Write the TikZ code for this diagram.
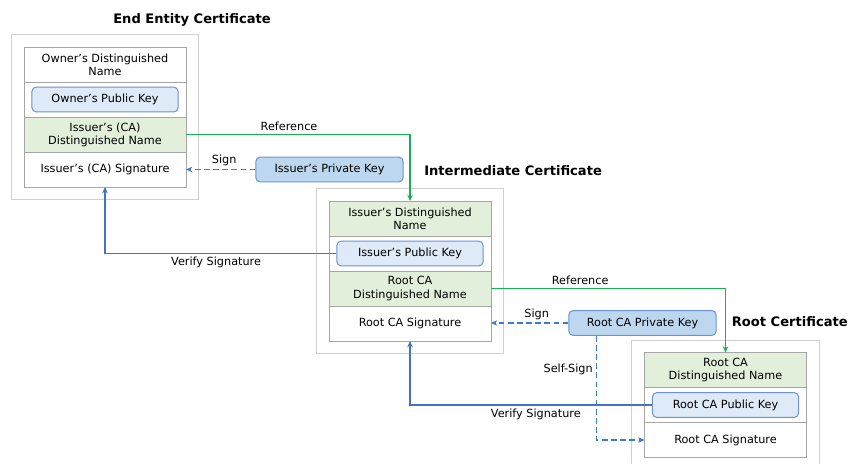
\documentclass[tikz,border=0pt]{standalone}
\usepackage{fontspec}
\setmainfont{DejaVu Sans}
\usepackage{xcolor}
\usetikzlibrary{arrows.meta, positioning, fit, calc}

\definecolor{refgreen}{RGB}{20,178,80}
\definecolor{verblue}{RGB}{68,114,196}
\definecolor{signblue}{RGB}{58,124,212}
\definecolor{dngreen}{RGB}{226,239,218}
\definecolor{publight}{RGB}{222,234,247}
\definecolor{privblue}{RGB}{189,215,238}
\definecolor{keyedge}{RGB}{108,146,212}
\definecolor{fieldedge}{RGB}{166,166,166}
\definecolor{certedge}{RGB}{208,208,208}

\tikzset{
  field/.style={rectangle, draw=fieldedge, fill=white, line width=0.6pt,
                minimum width=4.05cm, minimum height=0.875cm,
                align=center, inner sep=1pt, outer sep=0pt,
                font=\fontsize{8}{9.4}\selectfont},
  dnfield/.style={field, fill=dngreen},
  pubkey/.style={rectangle, rounded corners=3pt, draw=keyedge, fill=publight,
                 line width=0.7pt, minimum width=3.65cm, minimum height=0.62cm,
                 font=\fontsize{8}{9.4}\selectfont},
  privkey/.style={pubkey, fill=privblue, minimum width=3.68cm},
  certbox/.style={rectangle, draw=certedge, line width=0.7pt,
                  inner xsep=0.32cm, inner ysep=0.3cm},
  title/.style={font=\fontsize{9.3}{11}\selectfont\bfseries, anchor=west,
                inner sep=0pt},
  lbl/.style={font=\fontsize{8}{9.4}\selectfont, inner sep=2pt},
  refline/.style={draw=refgreen, line width=1.2pt,
                  -{Stealth[length=4.5pt,width=4pt]}},
  verline/.style={draw=verblue, line width=1.2pt,
                  -{Stealth[length=4.5pt,width=4pt]}},
  signline/.style={draw=signblue, line width=1.2pt, dash pattern=on 4pt off 2.5pt,
                   -{Stealth[length=4.5pt,width=4pt]}},
}

\begin{document}
\begin{tikzpicture}[x=0.025cm, y=-0.025cm]
  \useasboundingbox (0,0) rectangle (850,464);

  % end entity certificate
  \node[field] (eeowner) at (105,64.5) {Owner's Distinguished\\Name};
  \node[field, below=0pt of eeowner] (eekeyrow) {};
  \node[pubkey] (eepub) at (eekeyrow) {Owner's Public Key};
  \node[dnfield, below=0pt of eekeyrow] (eeissuer) {Issuer's (CA)\\Distinguished Name};
  \node[field, below=0pt of eeissuer] (eesig) {Issuer's (CA) Signature};
  \node[certbox, fit=(eeowner)(eesig)] (eecert) {};
  \node[title] (eetitle) at (113,20) {End Entity Certificate};

  % intermediate certificate
  \node[dnfield] (intdn) at (410,218.5) {Issuer's Distinguished\\Name};
  \node[field, below=0pt of intdn] (intkeyrow) {};
  \node[pubkey] (intpub) at (intkeyrow) {Issuer's Public Key};
  \node[dnfield, below=0pt of intkeyrow] (introot) {Root CA\\Distinguished Name};
  \node[field, below=0pt of introot] (intsig) {Root CA Signature};
  \node[certbox, fit=(intdn)(intsig)] (intcert) {};
  \node[title] (inttitle) at (424,171) {Intermediate Certificate};

  % root certificate
  \node[dnfield] (rootdn) at (725.5,370) {Root CA\\Distinguished Name};
  \node[field, below=0pt of rootdn] (rootkeyrow) {};
  \node[pubkey] (rootpub) at (rootkeyrow) {Root CA Public Key};
  \node[field, below=0pt of rootkeyrow] (rootsig) {Root CA Signature};
  \node[certbox, fit=(rootdn)(rootsig)] (rootcert) {};
  \node[title, anchor=east] (roottitle) at (848,322) {Root Certificate};

  % private keys
  \node[privkey] (issuerpriv) at (329.5,169.5) {Issuer's Private Key};
  \node[privkey] (rootpriv) at (642.5,323) {Root CA Private Key};
  \coordinate (selfsign) at ($(rootpriv.south west)+(28,0)$);

  % links between certificates
  \draw[refline] (eeissuer.east) -| node[lbl, above, pos=0.23] {Reference} (intdn.north);
  \draw[signline] (issuerpriv.west) -- node[lbl, above, pos=0.45] {Sign} (issuerpriv.west -| eesig.east);
  \draw[verline] (intpub.west) -| node[lbl, below, pos=0.26] {Verify Signature} (eesig.south);
  \draw[refline] (introot.east) -| node[lbl, above, pos=0.19] {Reference} (rootdn.north);
  \draw[signline] (rootpriv.west) -- node[lbl, above, pos=0.41] {Sign} (rootpriv.west -| intsig.east);
  \draw[verline] (rootpub.west) -| node[lbl, below, pos=0.24] {Verify Signature} (intsig.south);
  \draw[signline] (selfsign) |- node[lbl, left, pos=0.16] {Self-Sign} (rootsig.west);
\end{tikzpicture}
\end{document}
